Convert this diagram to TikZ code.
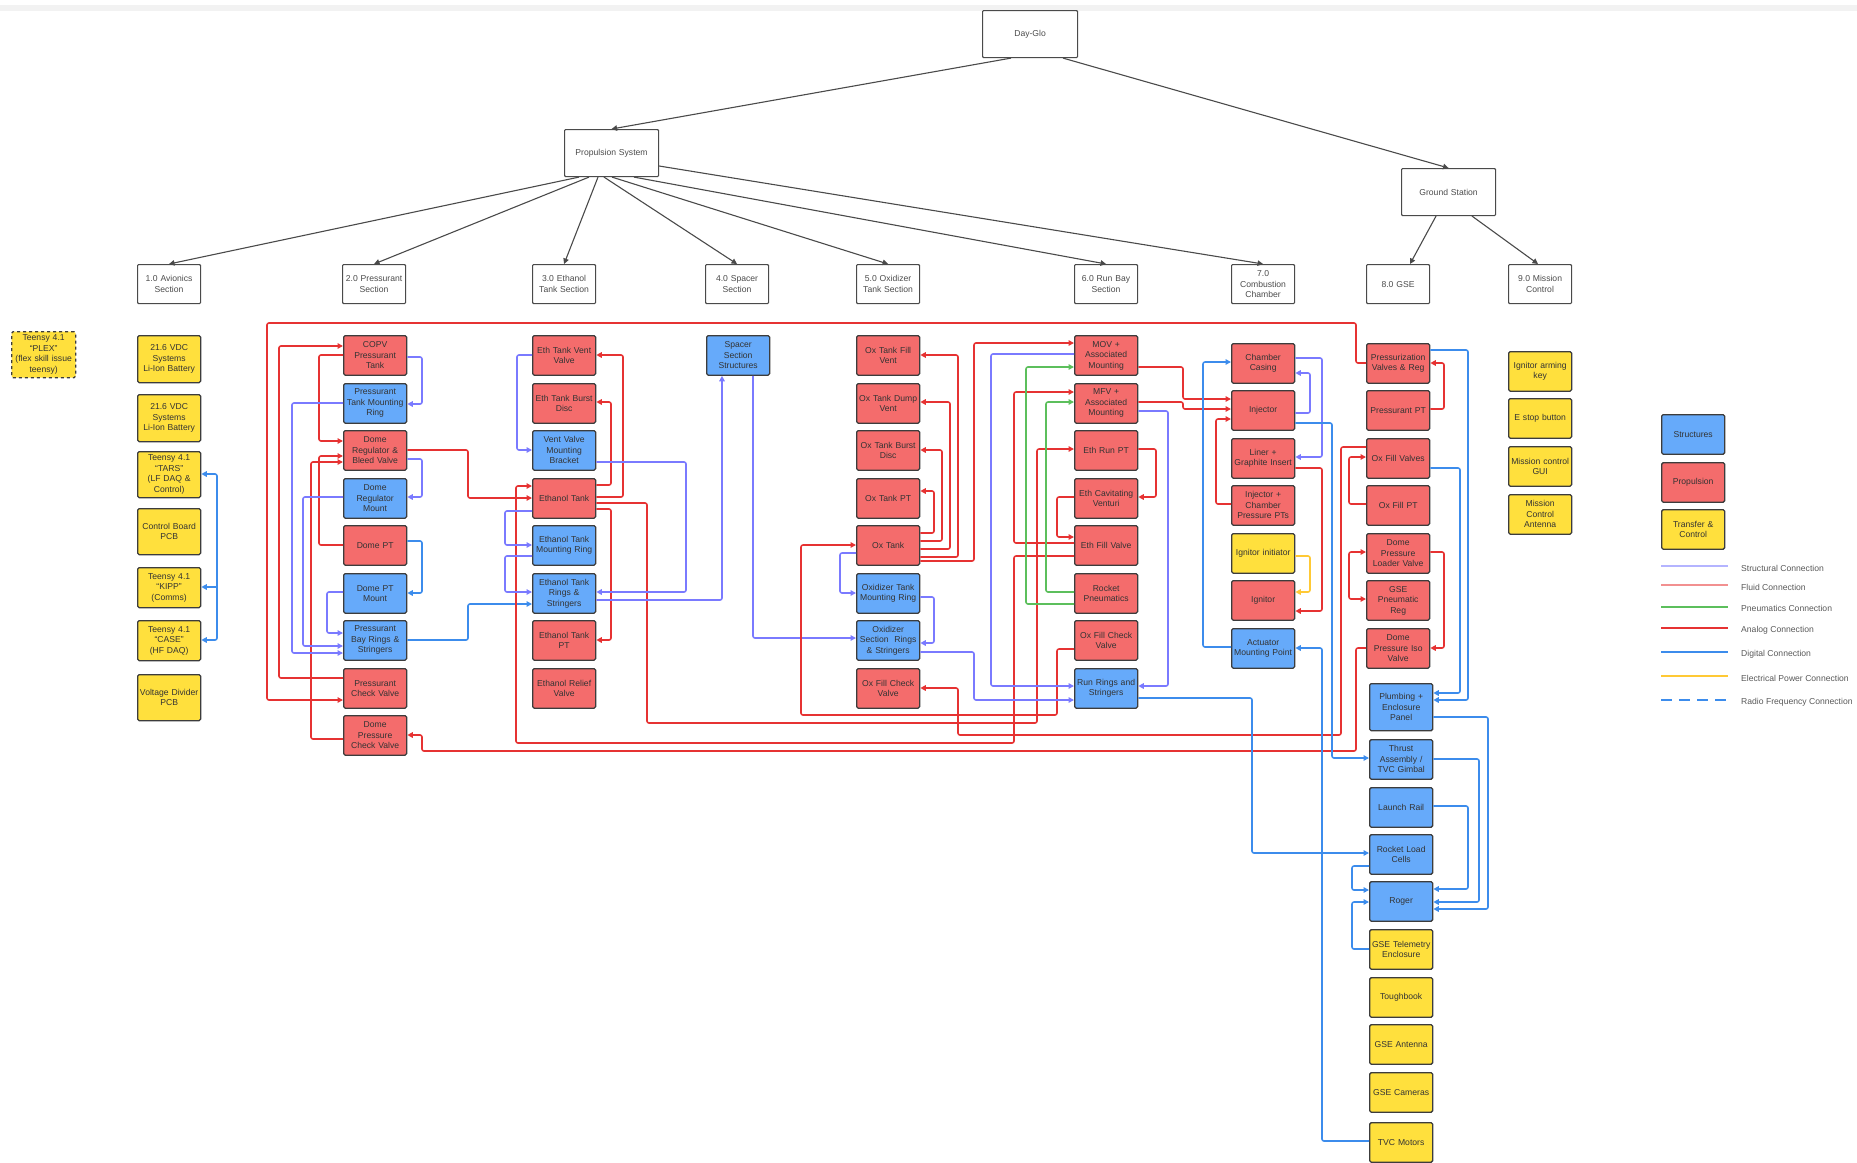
\documentclass[tikz,border=0pt]{standalone}
\usepackage{fontspec}
\setmainfont{Liberation Sans}
\usetikzlibrary{arrows.meta}
\definecolor{pred}{HTML}{F46C6C}
\definecolor{pblue}{HTML}{66AAFA}
\definecolor{pyel}{HTML}{FFE03D}
\definecolor{bord}{HTML}{3C3C3C}
\definecolor{txt}{HTML}{333333}
\definecolor{treeb}{HTML}{4A4A4A}
\definecolor{cred}{HTML}{E63232}
\definecolor{cstr}{HTML}{7A7AFF}
\definecolor{cdig}{HTML}{3C8CEC}
\definecolor{cpne}{HTML}{5CBF5C}
\definecolor{cpwr}{HTML}{FFC935}
\definecolor{lstr}{HTML}{B4B4FF}
\definecolor{lflu}{HTML}{F29090}
\newcommand{\bxf}{\fontsize{8.6}{10.5}\selectfont}
\tikzset{
  >={Triangle[length=5.5pt,width=5.5pt]},
  bx/.style={draw=bord, line width=1.3pt, rounded corners=1.5pt, minimum width=63pt,
    minimum height=39.5pt, inner sep=1pt, text width=61pt, align=center, font=\bxf,
    text=txt, anchor=north west},
  prp/.style={bx, fill=pred},
  stu/.style={bx, fill=pblue},
  tcn/.style={bx, fill=pyel},
  tbox/.style={draw=treeb, line width=1.1pt, rounded corners=1pt, fill=white, minimum width=63pt,
    minimum height=39pt, inner sep=1pt, text width=61pt, align=center, font=\bxf,
    text=black!70, anchor=north west},
  tr/.style={draw=treeb, line width=1.1pt},
  conn/.style={line width=1.6pt, rounded corners=2pt},
  ana/.style={conn, draw=cred},
  stc/.style={conn, draw=cstr},
  dig/.style={conn, draw=cdig},
  pne/.style={conn, draw=cpne},
  pwr/.style={conn, draw=cpwr},
  lgtext/.style={anchor=west, font=\bxf, text=black!65, inner sep=0pt},
}
\begin{document}
\begin{tikzpicture}[x=1pt,y=-1pt]
\useasboundingbox (0,0) rectangle (1857,1162);
\fill[black!5] (0,5) rectangle (1857,11);

% ---------- tree ----------
\node[tbox, minimum width=95pt, minimum height=47pt, text width=92pt] (dg) at (982,10) {Day-Glo};
\node[tbox, minimum width=94pt, minimum height=47pt, text width=92pt] (prop) at (564,129) {Propulsion System};
\node[tbox, minimum width=94pt, minimum height=47pt, text width=92pt] (gs) at (1401,168) {Ground Station};
\node[tbox] (s1) at (137,264) {1.0 Avionics\\Section};
\node[tbox] (s2) at (342,264) {2.0 Pressurant\\Section};
\node[tbox] (s3) at (532,264) {3.0 Ethanol\\Tank Section};
\node[tbox] (s4) at (705,264) {4.0 Spacer\\Section};
\node[tbox] (s5) at (856,264) {5.0 Oxidizer\\Tank Section};
\node[tbox] (s6) at (1074,264) {6.0 Run Bay\\Section};
\node[tbox] (s7) at (1231,264) {7.0\\Combustion\\Chamber};
\node[tbox] (s8) at (1366,264) {8.0 GSE};
\node[tbox] (s9) at (1508,264) {9.0 Mission\\Control};

\draw[tr,->] (dg.south -| 1011,0) -- (prop.north);
\draw[tr,->] (dg.south -| 1063,0) -- (gs.north);
\draw[tr,->] (prop.south -| 579,0) -- (s1.north);
\draw[tr,->] (prop.south -| 589,0) -- (s2.north);
\draw[tr,->] (prop.south -| 598,0) -- (s3.north);
\draw[tr,->] (prop.south -| 604,0) -- (s4.north);
\draw[tr,->] (prop.south -| 612,0) -- (s5.north);
\draw[tr,->] (prop.south -| 634,0) -- (s6.north);
\draw[tr,->] (prop.east |- 0,166) -- (s7.north);
\draw[tr,->] (gs.south -| 1436,0) -- (s8.north -| 1410,0);
\draw[tr,->] (gs.south -| 1472,0) -- (s9.north -| 1538,0);

% ---------- avionics ----------
\node[tcn, dashed, minimum width=64pt, minimum height=46pt] (plex) at (11,331) {Teensy 4.1\\``PLEX''\\(flex skill issue\\teensy)};
\node[tcn, minimum height=47pt] (bat1) at (137,335) {21.6 VDC\\Systems\\Li-Ion Battery};
\node[tcn, minimum height=47pt] (bat2) at (137,394) {21.6 VDC\\Systems\\Li-Ion Battery};
\node[tcn, minimum height=46pt] (tars) at (137,451) {Teensy 4.1\\``TARS''\\(LF DAQ \&\\Control)};
\node[tcn, minimum height=46pt] (cbp) at (137,508) {Control Board\\PCB};
\node[tcn, minimum height=40pt] (kipp) at (137,567) {Teensy 4.1\\``KIPP''\\(Comms)};
\node[tcn, minimum height=40pt] (casen) at (137,620) {Teensy 4.1\\``CASE''\\(HF DAQ)};
\node[tcn, minimum height=46pt] (vdp) at (137,674) {Voltage Divider\\PCB};

% ---------- pressurant ----------
\node[prp] (copv) at (343,335) {COPV\\Pressurant\\Tank};
\node[stu] (ptmr) at (343,383) {Pressurant\\Tank Mounting\\Ring};
\node[prp] (dreg) at (343,430) {Dome\\Regulator \&\\Bleed Valve};
\node[stu] (drm) at (343,478) {Dome\\Regulator\\Mount};
\node[prp] (dpt) at (343,525) {Dome PT};
\node[stu] (dptm) at (343,573) {Dome PT\\Mount};
\node[stu] (pbr) at (343,620) {Pressurant\\Bay Rings \&\\Stringers};
\node[prp] (pcv) at (343,668) {Pressurant\\Check Valve};
\node[prp] (dpcv) at (343,715) {Dome\\Pressure\\Check Valve};

% ---------- ethanol ----------
\node[prp] (event) at (532,335) {Eth Tank Vent\\Valve};
\node[prp] (eburst) at (532,383) {Eth Tank Burst\\Disc};
\node[stu] (vvmb) at (532,430) {Vent Valve\\Mounting\\Bracket};
\node[prp] (etank) at (532,478) {Ethanol Tank};
\node[stu] (etmr) at (532,525) {Ethanol Tank\\Mounting Ring};
\node[stu] (ers) at (532,573) {Ethanol Tank\\Rings \&\\Stringers};
\node[prp] (ept) at (532,620) {Ethanol Tank\\PT};
\node[prp] (erv) at (532,668) {Ethanol Relief\\Valve};

% ---------- spacer ----------
\node[stu] (spacer) at (706,335) {Spacer\\Section\\Structures};

% ---------- oxidizer ----------
\node[prp] (oxfvent) at (856,335) {Ox Tank Fill\\Vent};
\node[prp] (oxdump) at (856,383) {Ox Tank Dump\\Vent};
\node[prp] (oxburst) at (856,430) {Ox Tank Burst\\Disc};
\node[prp] (oxpt) at (856,478) {Ox Tank PT};
\node[prp] (oxtank) at (856,525) {Ox Tank};
\node[stu] (otmr) at (856,573) {Oxidizer Tank\\Mounting Ring};
\node[stu] (osr) at (856,620) {Oxidizer\\Section~ Rings\\\& Stringers};
\node[prp] (ofcv) at (856,668) {Ox Fill Check\\Valve};

% ---------- run bay ----------
\node[prp] (mov) at (1074,335) {MOV +\\Associated\\Mounting};
\node[prp] (mfv) at (1074,383) {MFV +\\Associated\\Mounting};
\node[prp] (erpt) at (1074,430) {Eth Run PT};
\node[prp] (ecv) at (1074,478) {Eth Cavitating\\Venturi};
\node[prp] (efill) at (1074,525) {Eth Fill Valve};
\node[prp] (rpn) at (1074,573) {Rocket\\Pneumatics};
\node[prp] (rofcv) at (1074,620) {Ox Fill Check\\Valve};
\node[stu] (rrs) at (1074,668) {Run Rings and\\Stringers};

% ---------- combustion ----------
\node[prp] (cc) at (1231,343) {Chamber\\Casing};
\node[prp] (inj) at (1231,390) {Injector};
\node[prp] (liner) at (1231,438) {Liner +\\Graphite Insert};
\node[prp] (icp) at (1231,485) {Injector +\\Chamber\\Pressure PTs};
\node[tcn] (igi) at (1231,533) {Ignitor initiator};
\node[prp] (ign) at (1231,580) {Ignitor};
\node[stu] (amp) at (1231,628) {Actuator\\Mounting Point};

% ---------- GSE ----------
\node[prp] (pvr) at (1366,343) {Pressurization\\Valves \& Reg};
\node[prp] (ppt) at (1366,390) {Pressurant PT};
\node[prp] (oxfv) at (1366,438) {Ox Fill Valves};
\node[prp] (oxfpt) at (1366,485) {Ox Fill PT};
\node[prp] (dplv) at (1366,533) {Dome\\Pressure\\Loader Valve};
\node[prp] (gpr) at (1366,580) {GSE\\Pneumatic\\Reg};
\node[prp] (dpiso) at (1366,628) {Dome\\Pressure Iso\\Valve};
\node[stu, minimum height=47pt] (plumb) at (1369,683) {Plumbing +\\Enclosure\\Panel};
\node[stu] (thrust) at (1369,739) {Thrust\\Assembly /\\TVC Gimbal};
\node[stu] (lrail) at (1369,787) {Launch Rail};
\node[stu] (rlc) at (1369,834) {Rocket Load\\Cells};
\node[stu] (roger) at (1369,881) {Roger};
\node[tcn] (gtel) at (1369,929) {GSE Telemetry\\Enclosure};
\node[tcn] (tough) at (1369,977) {Toughbook};
\node[tcn] (gant) at (1369,1024) {GSE Antenna};
\node[tcn] (gcam) at (1369,1072) {GSE Cameras};
\node[tcn] (tvc) at (1369,1122) {TVC Motors};

% ---------- mission control ----------
\node[tcn] (iak) at (1508,351) {Ignitor arming\\key};
\node[tcn] (estop) at (1508,398) {E stop button};
\node[tcn] (mcgui) at (1508,446) {Mission control\\GUI};
\node[tcn] (mcant) at (1508,494) {Mission\\Control\\Antenna};

% ---------- legend ----------
\node[stu] (lgs) at (1661,414) {Structures};
\node[prp] (lgp) at (1661,462) {Propulsion};
\node[tcn] (lgt) at (1661,509) {Transfer \&\\Control};
\draw[lstr, line width=1.6pt] (1661,566) -- (1728,566);
\node[lgtext] (lt1) at (1741,568) {Structural Connection};
\draw[lflu, line width=1.2pt] (1661,585) -- (1728,585);
\node[lgtext] (lt2) at (1741,587) {Fluid Connection};
\draw[cpne, line width=1.6pt] (1661,607) -- (1728,607);
\node[lgtext] (lt3) at (1741,608) {Pneumatics Connection};
\draw[cred, line width=2pt] (1661,628) -- (1728,628);
\node[lgtext] (lt4) at (1741,630) {Analog Connection};
\draw[cdig, line width=1.6pt] (1661,652) -- (1728,652);
\node[lgtext] (lt5) at (1741,654) {Digital Connection};
\draw[cpwr, line width=1.6pt] (1661,676) -- (1728,676);
\node[lgtext] (lt6) at (1741,678) {Electrical Power Connection};
\draw[cdig, line width=1.6pt, dash pattern=on 11pt off 7pt] (1661,700) -- (1728,700);
\node[lgtext] (lt7) at (1741,702) {Radio Frequency Connection};

% ---------- connectors: avionics ----------
\coordinate (avj) at (217,587);
\draw[dig,<->] (tars.east |- 0,474) -- (217,474) -- (217,640) -- (casen.east |- 0,640);
\draw[dig,->] (avj) -- (kipp.east |- avj);

% ---------- connectors: pressurant ----------
\draw[ana,->] (pvr.west |- 0,363) -- (1356,363) -- (1356,323) -- (267,323) -- (267,700) -- (pcv.west |- 0,700);
\draw[ana,->] (pcv.west |- 0,678) -- (279,678) -- (279,346) -- (copv.west |- 0,346);
\draw[ana,->] (copv.west |- 0,355) -- (319,355) -- (319,441) -- (dreg.west |- 0,441);
\draw[ana,->] (dpt.west |- 0,545) -- (319,545) -- (319,456) -- (dreg.west |- 0,456);
\draw[ana,->] (dpcv.west |- 0,739) -- (311,739) -- (311,462) -- (dreg.west |- 0,462);
\draw[ana,->] (dpiso.west |- 0,648) -- (1356,648) -- (1356,751) -- (422,751) -- (422,735) -- (dpcv.east |- 0,735);
\draw[ana,->] (dreg.east |- 0,450) -- (468,450) -- (468,498) -- (etank.west |- 0,498);
\draw[stc,->] (copv.east |- 0,357) -- (422,357) -- (422,404) -- (ptmr.east |- 0,404);
\draw[stc,->] (ptmr.west |- 0,403) -- (292,403) -- (292,653) -- (pbr.west |- 0,653);
\draw[stc,->] (dreg.east |- 0,459) -- (422,459) -- (422,497) -- (drm.east |- 0,497);
\draw[stc,->] (drm.west |- 0,497) -- (303,497) -- (303,646) -- (pbr.west |- 0,646);
\draw[stc,->] (dptm.west |- 0,592) -- (327,592) -- (327,633) -- (pbr.west |- 0,633);
\draw[dig,->] (dpt.east |- 0,541) -- (422,541) -- (422,593) -- (dptm.east |- 0,593);
\draw[dig,->] (pbr.east |- 0,640) -- (468,640) -- (468,604) -- (ers.west |- 0,604);

% ---------- connectors: ethanol ----------
\draw[ana,->] (efill.west |- 0,556) -- (1014,556) -- (1014,743) -- (516,743) -- (516,486) -- (etank.west |- 0,486);
\draw[ana,->] (etank.east |- 0,485) -- (611,485) -- (611,402) -- (eburst.east |- 0,402);
\draw[ana,->] (etank.east |- 0,497) -- (623,497) -- (623,355) -- (event.east |- 0,355);
\draw[ana,->] (etank.east |- 0,509) -- (611,509) -- (611,640) -- (ept.east |- 0,640);
\draw[ana,->] (etank.east |- 0,503) -- (647,503) -- (647,723) -- (1037,723) -- (1037,449) -- (erpt.west |- 0,449);
\draw[stc,->] (event.west |- 0,355) -- (517,355) -- (517,450) -- (vvmb.west |- 0,450);
\draw[stc,->] (vvmb.east |- 0,462) -- (686,462) -- (686,592) -- (ers.east |- 0,592);
\draw[stc,->] (etank.west |- 0,511) -- (505,511) -- (505,545) -- (etmr.west |- 0,545);
\draw[stc,->] (etmr.west |- 0,556) -- (505,556) -- (505,592) -- (ers.west |- 0,592);
\draw[stc,->] (ers.east |- 0,600) -- (722,600) -- (spacer.south -| 722,0);
\draw[stc,->] (spacer.south -| 753,0) -- (753,638) -- (osr.west |- 0,638);

% ---------- connectors: oxidizer ----------
\draw[ana,->] (oxtank.east |- 0,533) -- (934,533) -- (934,491) -- (oxpt.east |- 0,491);
\draw[ana,->] (oxtank.east |- 0,541) -- (942,541) -- (942,450) -- (oxburst.east |- 0,450);
\draw[ana,->] (oxtank.east |- 0,549) -- (950,549) -- (950,402) -- (oxdump.east |- 0,402);
\draw[ana,->] (oxtank.east |- 0,557) -- (958,557) -- (958,355) -- (oxfvent.east |- 0,355);
\draw[ana,->] (oxtank.east |- 0,561) -- (974,561) -- (974,343) -- (mov.west |- 0,343);
\draw[ana,->] (rofcv.west |- 0,649) -- (1057,649) -- (1057,715) -- (801,715) -- (801,545) -- (oxtank.west |- 0,545);
\draw[stc,->] (oxtank.west |- 0,553) -- (840,553) -- (840,593) -- (otmr.west |- 0,593);
\draw[stc,->] (otmr.east |- 0,597) -- (934,597) -- (934,643) -- (osr.east |- 0,643);
\draw[stc,->] (osr.east |- 0,652) -- (974,652) -- (974,700) -- (rrs.west |- 0,700);
\draw[ana,->] (oxfv.west |- 0,447) -- (1341,447) -- (1341,735) -- (958,735) -- (958,688) -- (ofcv.east |- 0,688);

% ---------- connectors: run bay ----------
\draw[ana,->] (mov.east |- 0,367) -- (1183,367) -- (1183,399) -- (inj.west |- 0,399);
\draw[ana,->] (mfv.east |- 0,402) -- (1183,402) -- (1183,409) -- (inj.west |- 0,409);
\draw[ana,->] (efill.west |- 0,543) -- (1014,543) -- (1014,392) -- (mfv.west |- 0,392);
\draw[stc,->] (mov.west |- 0,354) -- (991,354) -- (991,686) -- (rrs.west |- 0,686);
\draw[stc,->] (mfv.east |- 0,411) -- (1168,411) -- (1168,686) -- (rrs.east |- 0,686);
\draw[pne,->] (rpn.west |- 0,592) -- (1046,592) -- (1046,402) -- (mfv.west |- 0,402);
\draw[pne,->] (rpn.west |- 0,604) -- (1026,604) -- (1026,367) -- (mov.west |- 0,367);
\draw[ana,->] (erpt.east |- 0,449) -- (1156,449) -- (1156,497) -- (ecv.east |- 0,497);
\draw[ana,->] (ecv.west |- 0,497) -- (1057,497) -- (1057,537) -- (efill.west |- 0,537);
\draw[dig,->] (rrs.east |- 0,698) -- (1252,698) -- (1252,853) -- (rlc.west |- 0,853);

% ---------- connectors: combustion ----------
\draw[stc,->] (cc.east |- 0,358) -- (1322,358) -- (1322,457) -- (liner.east |- 0,457);
\draw[stc,->] (inj.east |- 0,413) -- (1310,413) -- (1310,373) -- (cc.east |- 0,373);
\draw[dig,->] (inj.east |- 0,423) -- (1332,423) -- (1332,758) -- (thrust.west |- 0,758);
\draw[ana,->] (liner.east |- 0,468) -- (1322,468) -- (1322,611) -- (ign.east |- 0,611);
\draw[ana,->] (icp.west |- 0,504) -- (1216,504) -- (1216,419) -- (inj.west |- 0,419);
\draw[pwr,->] (igi.east |- 0,556) -- (1310,556) -- (1310,592) -- (ign.east |- 0,592);
\draw[dig,->] (amp.west |- 0,647) -- (1203,647) -- (1203,362) -- (cc.west |- 0,362);
\draw[dig,->] (tvc.west |- 0,1141) -- (1322,1141) -- (1322,648) -- (amp.east |- 0,648);

% ---------- connectors: GSE ----------
\draw[ana,->] (ppt.east |- 0,409) -- (1444,409) -- (1444,363) -- (pvr.east |- 0,363);
\draw[dig,->] (pvr.east |- 0,350) -- (1468,350) -- (1468,700) -- (plumb.east |- 0,700);
\draw[dig,->] (oxfv.east |- 0,468) -- (1460,468) -- (1460,693) -- (plumb.east |- 0,693);
\draw[ana,->] (oxfpt.west |- 0,504) -- (1349,504) -- (1349,457) -- (oxfv.west |- 0,457);
\draw[ana,->] (dplv.east |- 0,552) -- (1444,552) -- (1444,648) -- (dpiso.east |- 0,648);
\draw[ana,<->] (dplv.west |- 0,552) -- (1349,552) -- (1349,599) -- (gpr.west |- 0,599);
\draw[dig,->] (plumb.east |- 0,717) -- (1488,717) -- (1488,909) -- (roger.east |- 0,909);
\draw[dig,->] (thrust.east |- 0,759) -- (1479,759) -- (1479,902) -- (roger.east |- 0,902);
\draw[dig,->] (lrail.east |- 0,806) -- (1468,806) -- (1468,889) -- (roger.east |- 0,889);
\draw[dig,->] (rlc.west |- 0,866) -- (1352,866) -- (1352,890) -- (roger.west |- 0,890);
\draw[dig,->] (gtel.west |- 0,949) -- (1352,949) -- (1352,902) -- (roger.west |- 0,902);
\end{tikzpicture}
\end{document}
